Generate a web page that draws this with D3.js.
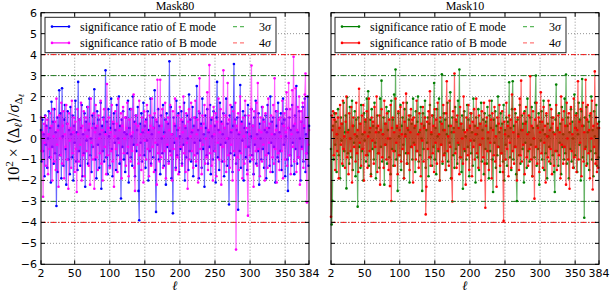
<!DOCTYPE html>
<html>
<head>
<meta charset="utf-8">
<script src="https://cdn.jsdelivr.net/npm/d3@7/dist/d3.min.js"></script>
<style>
  body { margin: 0; background: #fff; }
  .tick-label { font-family: "DejaVu Sans", sans-serif; font-size: 11px; }
  .serif { font-family: "Liberation Serif", "DejaVu Serif", serif; }
</style>
</head>
<body>
<script>
// multipole range and tick labels
var ellMin = 2, ellMax = 384;
var xTicks = [2, 50, 100, 150, 200, 250, 300, 350, 384];
var yTicks = [-6, -5, -4, -3, -2, -1, 0, 1, 2, 3, 4, 5, 6];
var panelTitles = ["Mask80", "Mask10"];
var legendLabels = ["significance ratio of E mode", "significance ratio of B mode"];
var sigmaLabels = ["3σ", "4σ"];
var sigmaLevels = [3, 4];

// significance ratios, one value per ell starting at ell = 2
var eMask80 = [
0.4,-1.1,0.9,-0.6,0.2,-1.8,1.1,-0.3,0.6,-1.4,0.0,1.3,-0.9,0.5,-2.1,1.75,-0.4,0.8,-1.2,1.4,
-0.7,0.3,-3.22,1.0,-1.6,0.6,2.3,-0.8,1.2,-1.9,2.4,0.1,-1.3,0.9,1.6,-0.5,-2.2,0.7,1.3,-1.0,
0.4,-1.7,1.5,0.2,-0.9,1.1,-2.0,0.6,-0.2,1.8,-1.1,0.3,-1.5,2.7,-0.6,0.9,-1.3,0.5,1.6,-1.8,
0.2,-0.7,1.2,-2.3,0.8,-0.1,1.5,-1.2,0.4,1.9,-0.8,0.0,-1.6,1.1,-0.4,0.7,2.35,-1.0,0.5,-1.9,
1.3,-0.3,0.9,-1.4,0.2,1.7,-2.4,0.6,-0.6,1.0,-1.1,0.3,3.25,-0.9,0.8,-1.7,1.4,0.1,-1.3,0.5,
1.9,-0.5,-1.8,0.7,1.2,-0.2,0.4,-1.5,1.6,-0.8,0.0,2.0,-1.2,0.6,-2.86,0.9,-0.4,1.3,-1.0,0.3,
-1.6,1.0,0.2,-0.7,1.8,-2.1,0.5,1.4,-0.9,0.1,-1.3,2.0,-0.3,0.8,-1.8,1.1,-0.6,0.4,1.5,-2.5,
-3.9,0.7,-0.2,1.2,-1.1,0.3,1.7,-0.8,0.6,-1.4,0.9,-0.1,1.3,-2.0,0.4,-0.6,1.9,-1.2,0.2,1.0,
-0.9,0.5,2.3,-1.5,-3.5,0.8,-0.3,1.4,-1.0,0.6,-1.7,1.1,0.0,-0.7,1.6,-1.3,0.3,0.9,-2.2,1.2,
-0.4,0.7,-1.1,3.68,-0.6,1.5,-1.9,0.2,-3.57,1.0,-0.2,0.6,-1.4,1.8,-0.8,0.4,1.2,-1.6,0.1,-0.5,
1.3,-1.2,0.8,-0.3,1.7,-2.0,0.5,-0.9,1.1,0.0,-1.5,2.1,-0.6,0.9,-1.1,0.3,1.5,-1.8,0.6,-0.2,
1.0,-1.3,2.5,-0.7,0.4,-1.9,1.2,-0.1,0.7,-1.4,1.9,-0.5,0.2,-2.3,1.1,0.5,-0.8,1.4,-1.2,0.3,
-0.4,1.6,-1.7,0.9,0.1,-1.0,1.3,-0.6,0.6,-2.1,1.0,2.7,-0.9,0.4,-1.5,1.7,-0.3,0.8,-1.1,0.2,
1.2,-1.8,0.5,-0.2,1.9,-1.3,0.7,0.0,-3.15,1.1,-0.7,0.3,1.5,-1.6,0.6,3.55,-0.8,0.9,-1.2,0.4,
1.0,-3.4,0.2,-0.6,2.55,-1.4,0.8,-0.1,1.3,-2.0,0.5,1.1,-0.9,0.3,-1.5,1.6,-0.4,0.7,-1.1,0.1,
1.4,-0.8,0.6,-1.7,1.0,-0.3,1.8,-1.2,0.2,-0.6,1.2,-2.2,0.7,0.0,-1.0,1.5,-0.5,0.9,-1.4,0.4,
1.1,-1.9,0.3,1.6,-0.7,0.5,-1.3,2.0,-0.2,0.8,-1.6,1.0,-0.4,0.2,-2.1,1.3,0.6,-0.9,1.7,-1.1,
0.3,-0.6,1.2,-1.5,0.7,1.9,-0.3,0.9,-1.8,0.1,1.4,-1.0,-2.5,0.5,1.0,-0.8,0.4,-1.3,1.6,-0.2,
0.6,-1.7,1.1,-0.5,2.5,-1.2,0.3,-0.9,1.3,0.0,-2.0,0.8,-0.4,1.5,-1.1,0.5,1.9,-1.6,0.2,-0.7,
2.0,-1.3,0.6
];
var bMask80 = [
1.0,-0.6,0.3,-2.78,0.7,-0.2,1.05,-1.3,0.5,0.9,-1.7,0.2,-0.5,1.2,-0.9,0.6,-2.0,1.4,0.1,-1.1,
0.8,-1.5,1.9,-0.3,0.4,-2.3,1.1,0.0,-0.8,1.7,-1.2,0.6,1.3,-1.9,0.2,-0.4,1.6,-1.0,0.7,-2.4,
1.2,-0.1,0.5,-1.4,1.8,-0.7,0.3,1.0,-1.6,0.8,-0.5,-2.55,1.4,0.2,-1.1,0.9,-0.3,1.7,-2.0,0.6,
-0.8,1.3,-1.8,0.4,1.0,-0.6,0.1,1.5,-1.3,0.7,-2.2,1.9,-0.2,0.5,-1.0,1.2,-2.4,0.3,1.6,-0.9,
0.6,-1.5,1.1,0.0,-0.7,1.8,-1.2,0.4,-2.0,0.9,1.4,-0.4,0.2,-1.7,2.6,-0.8,0.5,1.0,-1.4,0.3,
-0.6,1.6,-1.1,0.8,-2.3,0.1,1.3,-0.5,0.7,-1.6,1.9,-0.2,0.4,-1.0,1.2,-1.9,0.6,1.5,-0.7,0.0,
1.0,-1.3,0.5,1.7,-0.4,-1.8,0.9,0.2,-1.1,1.4,-0.6,0.3,2.1,-1.4,-2.5,0.7,1.1,-0.3,0.6,-1.2,
1.8,-0.8,0.2,-1.5,1.0,0.4,-2.1,1.3,-0.1,0.8,-1.0,1.6,-0.5,0.3,-1.8,1.1,0.6,-1.3,1.9,-0.4,
0.5,-1.6,1.2,-0.2,0.9,-2.2,2.8,-0.7,0.3,-1.1,2.8,-0.9,0.6,1.4,-1.4,0.1,-0.6,1.7,-1.9,0.8,
-0.3,1.0,-1.2,0.4,1.6,-0.8,0.2,-2.0,1.3,-0.5,0.7,1.9,-1.5,0.0,-0.9,1.1,-1.7,0.5,1.5,-0.4,
0.9,-1.3,0.3,2.0,-0.7,0.6,-1.6,1.2,-0.2,-2.4,0.8,1.4,-1.0,0.1,1.7,-0.6,0.4,-1.4,1.0,-0.8,
1.8,-1.1,0.2,0.9,-2.1,1.3,2.87,-0.5,0.5,-1.7,1.1,-0.3,0.7,1.6,-1.2,0.0,-0.9,2.2,-1.5,0.4,
3.5,-0.7,0.6,-1.3,1.0,-2.0,1.5,0.2,-0.6,1.2,-1.8,0.8,-0.2,1.9,-1.0,0.3,1.4,-2.2,0.7,-0.4,
3.25,-1.1,0.5,1.1,-1.6,0.0,2.65,-0.8,0.9,-1.4,1.6,-0.3,0.4,-2.0,1.3,-0.6,0.8,1.7,-5.3,0.6,
-0.9,1.2,-1.5,0.3,2.0,-0.7,0.7,-1.9,1.0,0.1,-1.2,1.8,-0.4,0.5,-1.7,-3.68,1.1,0.2,-0.8,1.4,
3.48,-1.0,0.6,-2.3,1.3,0.0,-0.6,1.7,-1.3,2.65,-0.5,0.4,-1.8,1.0,0.3,-1.1,1.5,-0.3,0.8,-2.0,
1.2,-0.8,0.5,-1.4,1.9,-0.2,0.7,-1.6,1.1,0.2,-0.9,1.6,-1.2,2.87,-0.5,0.4,-2.1,1.3,-0.7,0.9,
-1.5,1.0,0.1,-0.6,1.8,-1.9,0.6,1.2,-1.0,0.3,2.2,-1.3,0.5,2.65,-0.8,1.4,-1.7,0.2,2.3,-0.4,
3.9,-1.1,0.7,2.4,-1.6,0.4,1.5,-0.9,2.0,-2.2,0.8,1.3,-0.5,1.7,-1.4,0.6,2.1,3.1,-0.7,-3.05,
1.0,-0.3,0.4
];
var eMask10 = [
-0.5,-4.1,-2.97,0.6,-1.0,1.2,-0.3,0.8,-1.6,0.2,1.4,-0.8,0.5,-1.9,1.0,-0.1,0.7,-1.3,1.7,-0.6,
0.3,1.1,-2.38,1.97,-0.7,0.4,-1.2,1.5,0.0,-0.9,1.8,-1.5,0.6,-0.2,1.3,-1.8,0.9,0.1,-3.25,1.0,
-0.4,0.7,-1.4,1.6,-0.6,0.2,-2.0,1.2,-0.1,0.8,-1.1,1.9,-0.8,2.25,-1.3,0.3,0.9,-1.7,1.4,-0.5,
0.6,-1.0,1.7,-0.2,-1.9,0.5,1.1,-0.7,0.3,-1.4,1.9,-0.4,2.76,-1.1,0.2,1.0,-2.2,0.7,-0.3,1.5,
-1.2,0.4,1.3,-0.9,0.0,-1.7,1.8,-0.5,0.9,-1.3,2.1,-0.6,3.29,-1.0,0.5,-2.5,1.2,0.1,-0.8,1.6,
-1.5,0.6,1.0,-0.3,-1.9,1.4,0.2,-0.7,1.7,-1.2,0.4,0.9,-2.1,1.1,-0.4,0.7,-1.0,1.9,-0.2,0.5,
-1.6,1.3,-0.6,0.8,2.0,-1.1,0.3,-0.8,1.5,0.0,-2.5,1.2,-0.5,0.6,1.8,-1.4,0.4,-0.2,1.0,-1.8,
0.7,1.6,-0.9,0.2,-1.3,1.1,-0.4,2.65,-1.0,0.5,-1.7,1.4,0.1,-0.6,1.9,-2.0,0.8,-0.3,3.06,-1.2,
0.4,1.2,-0.7,0.9,-1.5,0.2,1.7,-1.1,0.6,-0.2,2.2,-1.9,0.3,1.0,-0.8,0.5,-1.4,1.5,-0.5,0.8,
-1.2,1.8,-0.3,3.29,-0.9,0.7,-1.6,1.1,-2.4,0.4,1.3,-0.6,0.1,-1.0,1.6,-0.4,0.9,-1.8,0.5,1.2,
-0.7,0.3,-1.3,1.9,-0.1,0.6,-2.1,1.0,0.2,-0.9,1.4,-1.5,0.7,-0.3,1.7,-1.1,0.4,0.9,-1.7,1.2,
-0.5,0.8,-1.2,1.5,0.0,-1.9,1.1,-0.6,0.5,1.8,-1.0,-2.55,0.9,-0.2,1.3,-1.4,0.6,-0.8,2.0,-0.4,
0.3,-1.6,1.2,-0.7,0.7,-1.1,1.6,-2.0,0.4,-0.3,1.0,-1.3,0.8,0.1,2.68,-0.9,0.5,-1.5,1.4,2.73,
-1.0,0.6,-0.4,1.2,-1.7,-2.98,0.9,0.2,-0.8,1.6,-1.2,0.4,1.1,-0.5,0.7,-2.1,1.3,-0.2,0.8,-1.4,
1.9,-0.6,0.3,-1.1,1.0,-0.3,1.5,-1.8,0.5,0.0,-0.9,1.7,3.0,-1.3,0.6,-0.5,1.2,-2.2,0.8,-0.1,
1.3,-1.0,0.4,1.8,-1.5,0.2,-0.7,1.1,-1.9,0.7,0.1,-0.4,1.6,-1.2,0.5,1.0,-0.8,0.3,-1.6,-2.55,
0.9,2.57,-0.6,0.4,-1.3,1.2,-0.2,0.7,-1.7,1.5,-0.4,0.2,-1.0,1.9,-0.7,3.05,-1.2,0.6,1.0,-1.9,
0.3,-0.5,1.4,-1.1,0.8,0.0,-1.4,2.1,-0.8,0.5,1.2,-1.6,0.2,1.7,-0.3,0.9,-2.0,1.3,2.84,-0.9,
0.6,-3.78,1.0,-0.4,1.5,-1.2,0.3,0.8,-1.5,1.1,-0.6,2.0,-1.0,0.4,-1.8,1.3,0.1,-0.7,1.6,-1.3,
0.5,-0.9,0.8
];
var bMask10 = [
-3.73,1.1,0.4,1.3,-0.8,0.9,-1.5,1.2,0.2,-0.6,1.0,-1.9,0.5,1.6,-0.3,0.7,-1.2,1.8,-0.5,0.1,
-1.4,0.8,2.0,-0.9,0.3,-1.7,1.2,0.0,-0.6,1.5,-2.1,0.6,1.0,-0.4,0.2,-1.1,1.7,-0.7,0.4,-1.6,
2.37,-0.2,0.7,-1.3,1.1,-0.5,1.6,-2.0,0.3,0.9,-0.8,1.3,-1.4,0.1,1.9,-0.6,0.5,-1.8,1.0,-0.1,
0.8,-1.2,1.5,-0.4,0.3,2.0,-1.6,0.6,-0.7,1.1,-2.2,0.4,1.4,-0.9,0.2,-1.4,1.8,-0.3,0.7,-1.0,
1.2,0.0,-1.5,0.9,-2.27,1.6,-2.98,0.5,1.0,-0.6,0.3,-1.3,1.9,-0.2,0.6,-1.7,1.3,-0.8,0.4,1.5,
-1.1,0.2,-0.5,1.7,-1.9,0.8,0.1,2.14,-1.2,0.5,-0.7,1.1,-1.5,0.3,1.4,-0.4,0.9,-2.1,1.0,-0.3,
0.6,-1.0,1.8,-0.6,0.2,-1.4,1.2,0.4,-1.8,0.7,-0.1,1.5,-1.1,0.5,1.0,-3.62,-2.3,0.8,-0.5,1.3,
-0.9,2.25,-1.3,0.3,1.1,-0.7,0.6,-1.6,1.4,-0.2,0.9,-1.2,1.7,-0.5,0.2,-2.0,1.0,-0.3,0.7,-1.1,
1.6,-0.8,0.4,-1.5,1.2,2.73,-0.6,0.1,-1.3,1.8,-0.4,0.6,-1.9,-3.0,1.3,0.3,3.1,-0.7,0.9,-1.4,
1.1,-0.2,0.5,-1.7,1.5,-0.9,0.7,0.0,-1.2,2.0,-0.5,0.3,-2.2,1.0,0.4,-0.8,1.6,-1.5,0.6,-0.1,
1.2,-1.8,0.8,-0.4,1.4,-1.0,0.2,1.9,-0.7,0.5,-1.4,1.1,-0.3,0.7,-2.0,1.3,0.0,-0.9,1.7,-1.2,
-3.3,0.6,1.0,-0.6,0.3,-1.5,1.8,-0.2,0.9,-1.9,1.2,0.4,-0.8,1.5,-1.1,0.1,-2.3,1.0,-0.4,0.7,
1.6,-1.3,0.5,-0.7,1.3,-1.6,-3.93,0.8,0.2,-1.0,1.7,-0.5,0.6,-1.8,1.1,-0.2,0.9,-1.4,2.1,-0.6,
0.3,-1.2,1.4,-0.4,0.8,-2.0,1.0,0.1,-1.5,1.9,-0.8,2.76,-1.1,0.4,-0.3,1.2,-1.7,0.7,1.5,-0.9,
0.2,-1.3,1.1,-0.5,2.97,-1.0,0.6,-1.8,1.3,0.0,-2.87,0.9,-0.4,1.7,-1.2,0.5,1.0,-1.6,0.3,2.2,
-0.7,0.8,-1.4,1.5,-0.2,0.6,-2.1,1.2,0.1,-0.9,1.8,-1.1,0.4,-0.5,1.4,-1.7,0.7,1.0,-1.3,0.2,
-0.6,1.6,-1.5,0.5,1.1,-0.8,0.3,-1.9,2.0,-0.3,0.9,-1.2,1.3,-0.4,0.6,-2.2,1.7,0.0,-1.0,1.2,
-2.4,0.7,1.5,-0.6,0.2,-1.4,1.9,-0.9,0.5,1.1,-1.6,0.4,2.73,-1.0,0.8,-0.2,1.4,-1.8,0.6,1.7,
-1.1,0.3,-0.5,2.8,-1.3,0.9,1.6,-0.7,0.4,-1.9,1.2,0.0,1.8,-2.43,0.6,-0.4,3.2,-1.2,1.0,-1.6,
0.7,-1.4,0.5
];

var W = 610, H = 293;
var plotTop = 12.7, plotBottom = 264.3;

var svg = d3.select("body").append("svg")
    .attr("width", W)
    .attr("height", H);

var panels = [
    {x0: 41, x1: 309, title: panelTitles[0], e: eMask80, b: bMask80, ec: "#0000ff", bc: "#ff00ff", yLabels: true},
    {x0: 331, x1: 599, title: panelTitles[1], e: eMask10, b: bMask10, ec: "#008000", bc: "#ff0000", yLabels: false}
];

var sigmaColors = ["#1e7a1e", "#ee1111"];
var sigmaLegendColors = ["#5cb85c", "#ff7a7a"];

panels.forEach(function(p) {
    var x = d3.scaleLinear().domain([ellMin, ellMax]).range([p.x0, p.x1]);
    var y = d3.scaleLinear().domain([-6, 6]).range([plotBottom, plotTop]);
    var g = svg.append("g");

    // grid
    g.selectAll(".gx").data(xTicks.slice(1, -1)).enter().append("line")
        .attr("x1", function(d) { return x(d); }).attr("x2", function(d) { return x(d); })
        .attr("y1", plotTop).attr("y2", plotBottom)
        .attr("stroke", "#777").attr("stroke-width", 0.8).attr("stroke-dasharray", "1,2");
    g.selectAll(".gy").data(yTicks.slice(1, -1)).enter().append("line")
        .attr("x1", p.x0).attr("x2", p.x1)
        .attr("y1", function(d) { return y(d); }).attr("y2", function(d) { return y(d); })
        .attr("stroke", "#777").attr("stroke-width", 0.8).attr("stroke-dasharray", "1,2");

    // data lines
    var line = d3.line()
        .x(function(d, i) { return x(ellMin + i); })
        .y(function(d) { return y(d); });

    [[p.e, p.ec], [p.b, p.bc]].forEach(function(s) {
        g.append("path")
            .datum(s[0])
            .attr("d", line)
            .attr("fill", "none")
            .attr("stroke", s[1])
            .attr("stroke-opacity", 0.6)
            .attr("stroke-width", 1.2);
        g.selectAll(null).data(s[0]).enter().append("circle")
            .attr("cx", function(d, i) { return x(ellMin + i); })
            .attr("cy", function(d) { return y(d); })
            .attr("r", 1.3)
            .attr("fill", s[1]);
    });

    // 3 and 4 sigma lines
    sigmaLevels.forEach(function(lv, k) {
        [lv, -lv].forEach(function(v) {
            g.append("line")
                .attr("x1", p.x0).attr("x2", p.x1)
                .attr("y1", y(v)).attr("y2", y(v))
                .attr("stroke", sigmaColors[k]).attr("stroke-width", 1)
                .attr("stroke-dasharray", "5,2,1,2");
        });
    });

    // frame
    g.append("rect")
        .attr("x", p.x0).attr("y", plotTop)
        .attr("width", p.x1 - p.x0).attr("height", plotBottom - plotTop)
        .attr("fill", "none").attr("stroke", "#000").attr("stroke-width", 1);

    // ticks (inward, all sides)
    xTicks.forEach(function(t) {
        g.append("line").attr("x1", x(t)).attr("x2", x(t)).attr("y1", plotBottom).attr("y2", plotBottom - 4).attr("stroke", "#000");
        g.append("line").attr("x1", x(t)).attr("x2", x(t)).attr("y1", plotTop).attr("y2", plotTop + 4).attr("stroke", "#000");
    });
    yTicks.forEach(function(t) {
        g.append("line").attr("x1", p.x0).attr("x2", p.x0 + 4).attr("y1", y(t)).attr("y2", y(t)).attr("stroke", "#000");
        g.append("line").attr("x1", p.x1).attr("x2", p.x1 - 4).attr("y1", y(t)).attr("y2", y(t)).attr("stroke", "#000");
    });

    g.selectAll(".xl").data(xTicks).enter().append("text")
        .attr("class", "tick-label")
        .attr("x", function(d) { return x(d); })
        .attr("y", 276.5)
        .attr("text-anchor", "middle")
        .text(function(d) { return d; });

    if (p.yLabels) {
        g.selectAll(".yl").data(yTicks).enter().append("text")
            .attr("class", "tick-label")
            .attr("x", p.x0 - 4)
            .attr("y", function(d) { return y(d) + 4; })
            .attr("text-anchor", "end")
            .text(function(d) { return d < 0 ? "\u2212" + (-d) : d; });
    }

    // title and x label
    g.append("text").attr("class", "serif")
        .attr("x", (p.x0 + p.x1) / 2).attr("y", 9.5)
        .attr("text-anchor", "middle").attr("font-size", 12)
        .text(p.title);
    g.append("text").attr("class", "serif")
        .attr("x", (p.x0 + p.x1) / 2).attr("y", 290)
        .attr("text-anchor", "middle").attr("font-size", 13).attr("font-style", "italic")
        .text("ℓ");

    // legend
    var lx = p.x0 + 4, ly = 17.3;
    var lg = g.append("g");
    lg.append("rect")
        .attr("x", lx).attr("y", ly).attr("width", 231).attr("height", 35.4)
        .attr("fill", "#fff").attr("stroke", "#222").attr("stroke-width", 1);
    [[p.ec, legendLabels[0]], [p.bc, legendLabels[1]]].forEach(function(it, k) {
        var yy = ly + 9.3 + k * 16.3;
        lg.append("line").attr("x1", lx + 7).attr("x2", lx + 24).attr("y1", yy).attr("y2", yy)
            .attr("stroke", it[0]).attr("stroke-width", 1.2);
        [lx + 7, lx + 24].forEach(function(cx) {
            lg.append("circle").attr("cx", cx).attr("cy", yy).attr("r", 1.3).attr("fill", it[0]);
        });
        lg.append("text").attr("class", "serif")
            .attr("x", lx + 35).attr("y", yy + 4).attr("font-size", 12)
            .text(it[1]);
        lg.append("line").attr("x1", lx + 188).attr("x2", lx + 200).attr("y1", yy).attr("y2", yy)
            .attr("stroke", sigmaLegendColors[k]).attr("stroke-width", 1.2)
            .attr("stroke-dasharray", "4,3");
        var st = lg.append("text").attr("class", "serif")
            .attr("x", lx + 226).attr("y", yy + 4).attr("font-size", 12)
            .attr("text-anchor", "end");
        st.append("tspan").text(sigmaLabels[k].charAt(0));
        st.append("tspan").attr("font-style", "italic").text(sigmaLabels[k].slice(1));
    });
});

// y axis label
var yl = svg.append("text").attr("class", "serif")
    .attr("transform", "translate(19," + (plotTop + plotBottom) / 2 + ") rotate(-90)")
    .attr("text-anchor", "middle")
    .attr("font-size", 16);
yl.append("tspan").text("10");
yl.append("tspan").attr("dy", -6).attr("font-size", 11).text("2");
yl.append("tspan").attr("dy", 6).text(" × ⟨Δ");
yl.append("tspan").attr("dy", 3).attr("font-size", 11).attr("font-style", "italic").text("ℓ");
yl.append("tspan").attr("dy", -3).text("⟩/");
yl.append("tspan").attr("font-style", "italic").text("σ");
yl.append("tspan").attr("dy", 3).attr("font-size", 11).text("Δ");
yl.append("tspan").attr("dy", 2).attr("font-size", 8).attr("font-style", "italic").text("ℓ");
</script>
</body>
</html>
